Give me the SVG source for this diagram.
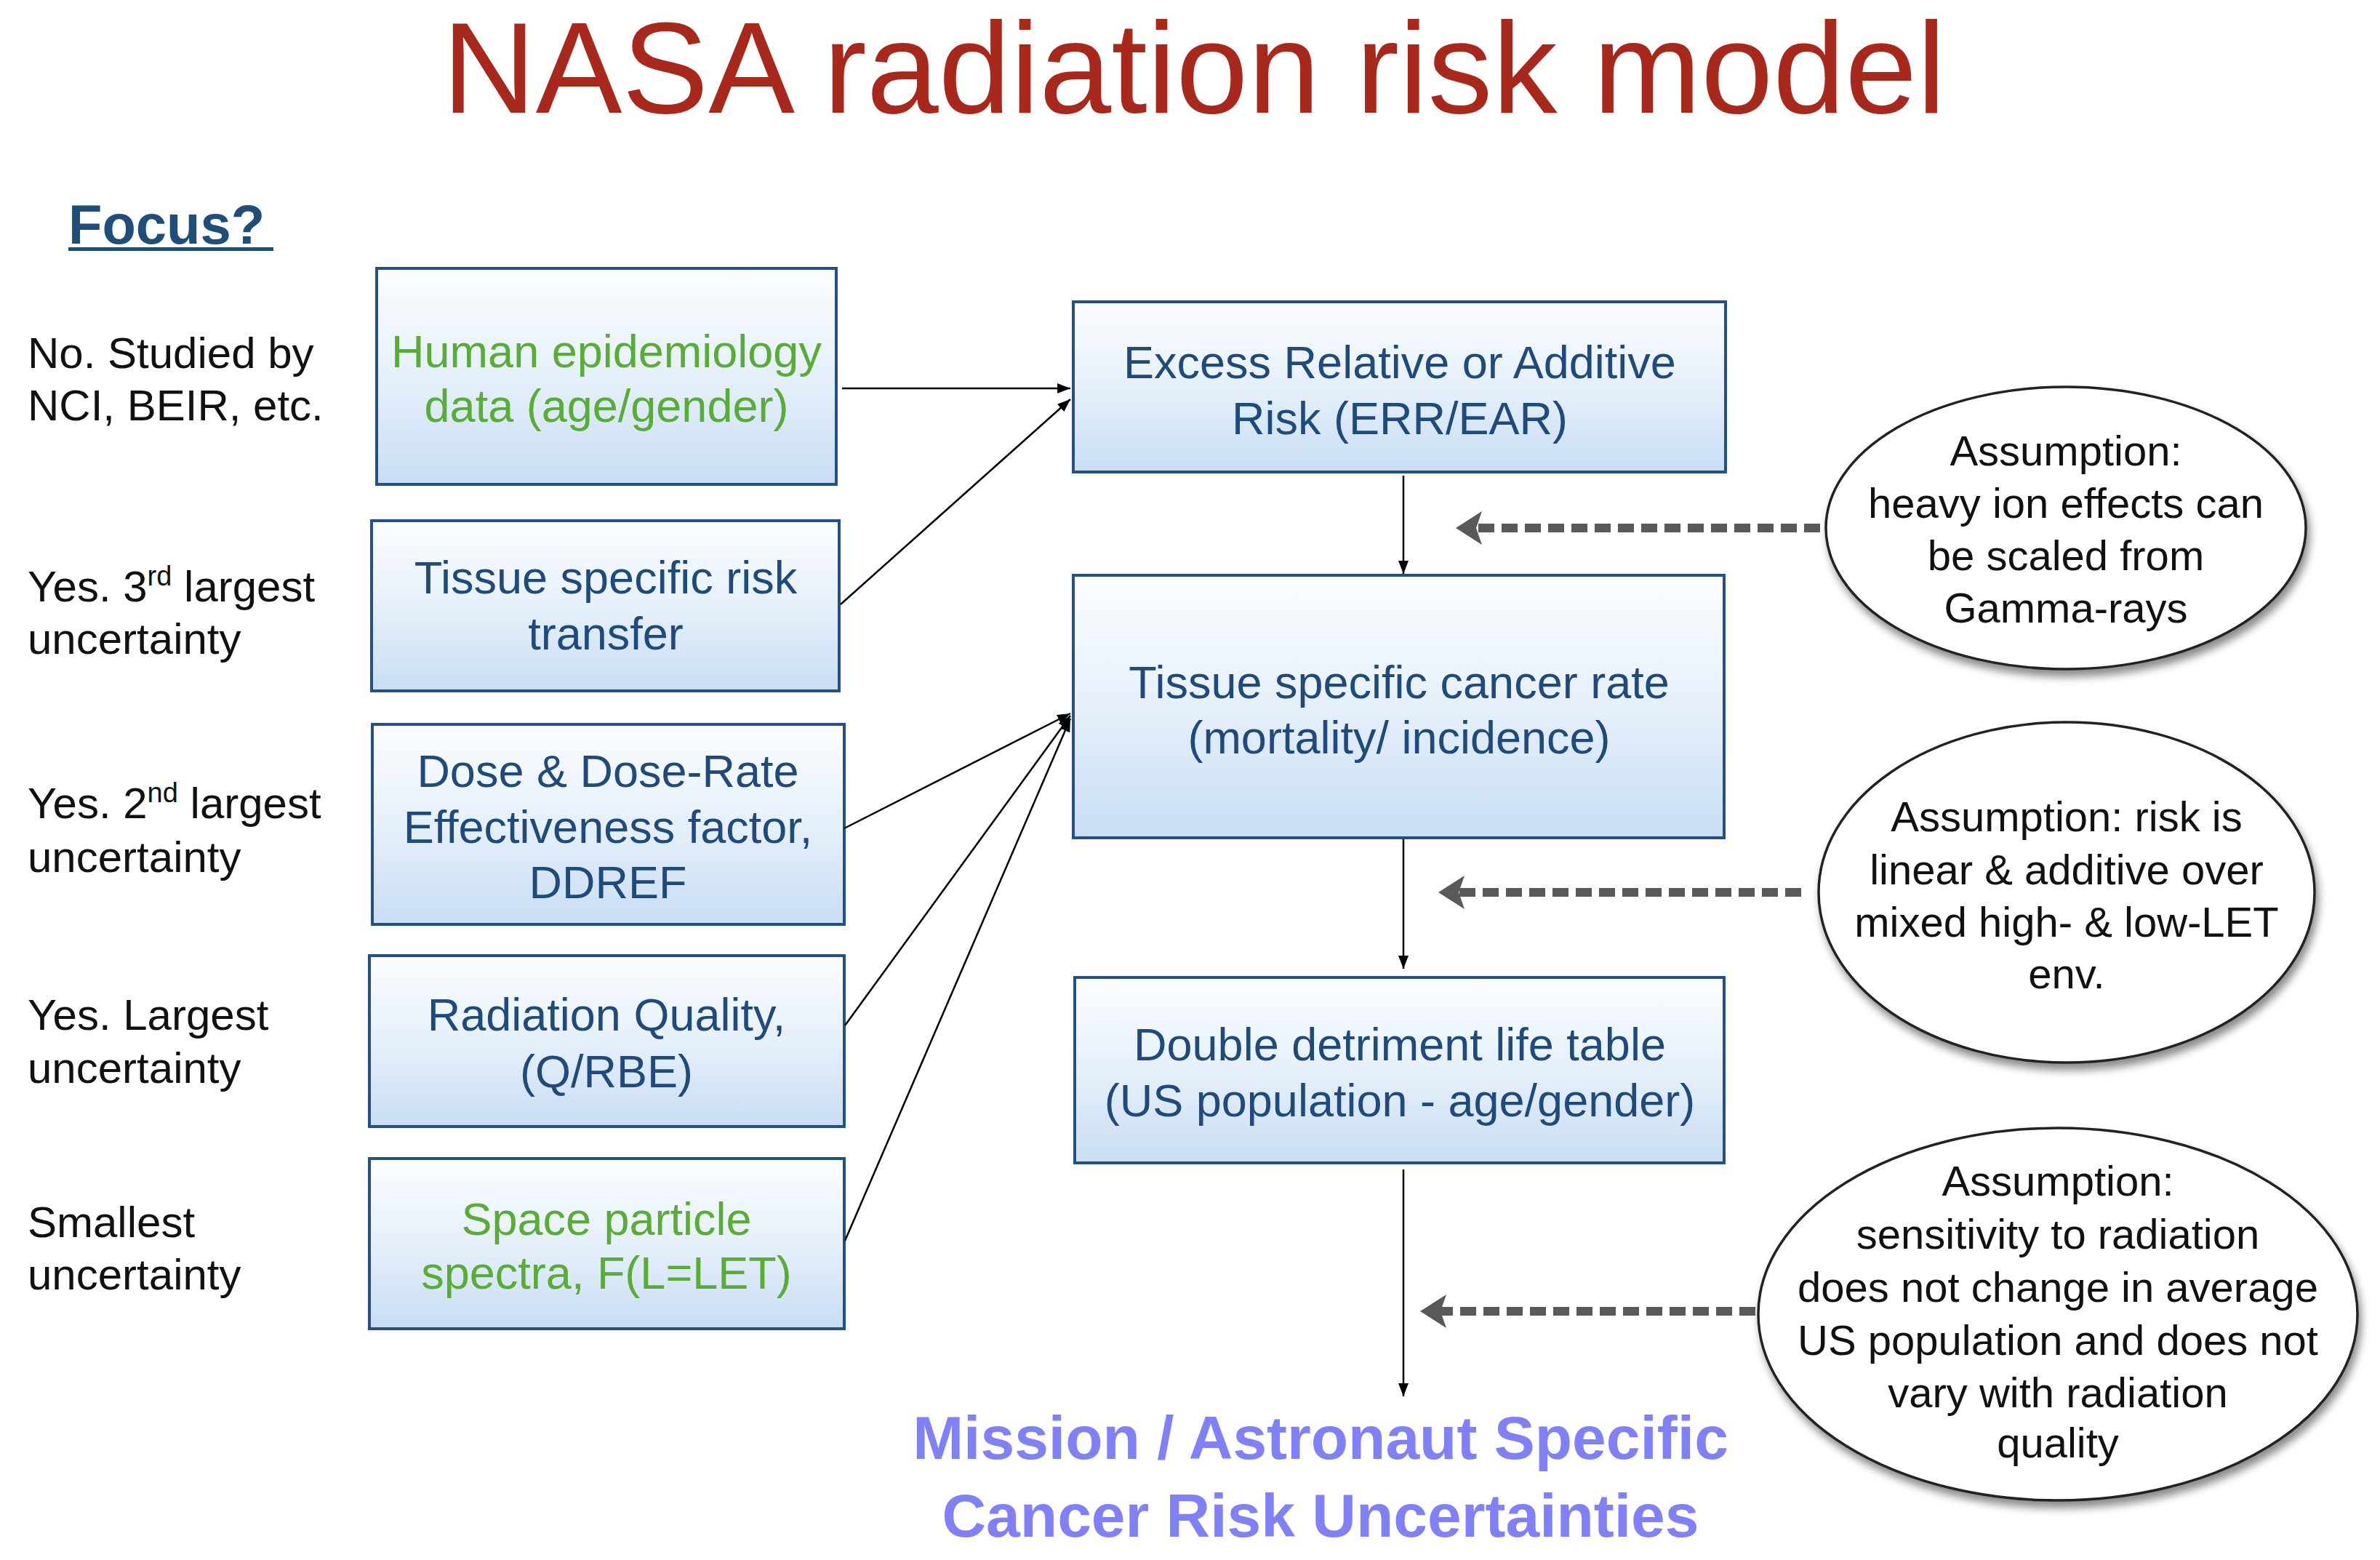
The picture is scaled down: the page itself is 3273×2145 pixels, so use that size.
<svg xmlns="http://www.w3.org/2000/svg" width="3273" height="2145" viewBox="0 0 3273 2145">
<defs>
<linearGradient id="boxg" x1="0" y1="0" x2="0" y2="1">
<stop offset="0" stop-color="#FBFDFF"/>
<stop offset="0.5" stop-color="#E6F0FA"/>
<stop offset="1" stop-color="#C8DDF4"/>
</linearGradient>
<filter id="sh" x="-10%" y="-10%" width="125%" height="130%">
<feDropShadow dx="4" dy="9" stdDeviation="6" flood-color="#000" flood-opacity="0.45"/>
</filter>
<marker id="ah" markerUnits="userSpaceOnUse" viewBox="0 -8 18 16" markerWidth="18" markerHeight="16" refX="18" refY="0" orient="auto">
<path d="M0,-7 L18,0 L0,7 Z" fill="#000"/>
</marker>
<marker id="dah" markerUnits="userSpaceOnUse" viewBox="0 -26 40 52" markerWidth="40" markerHeight="52" refX="8" refY="0" orient="auto">
<path d="M36,0 L0,-23 L8,0 L0,23 Z" fill="#595959"/>
</marker>
</defs>
<style>
.box{fill:url(#boxg);stroke:#24508A;stroke-width:4}
.bt{font-family:"Liberation Sans",Arial,sans-serif;font-size:63px;fill:#1F4A7C;text-anchor:middle}
.green{fill:#58AD35}
.lt{font-family:"Liberation Sans",Arial,sans-serif;font-size:60px;fill:#111}
.et{font-family:"Liberation Sans",Arial,sans-serif;font-size:58px;fill:#111;text-anchor:middle}
.ell{fill:#fff;stroke:#222;stroke-width:3.5;filter:url(#sh)}
.thin{stroke:#000;stroke-width:2.5;fill:none;marker-end:url(#ah)}
.dash{stroke:#595959;stroke-width:12;stroke-dasharray:22 10;fill:none;marker-end:url(#dah)}
.res{font-family:"Liberation Sans",Arial,sans-serif;font-size:84px;font-weight:bold;fill:#8080F8;text-anchor:middle}
</style>
<rect width="3273" height="2145" fill="#fff"/>
<text x="1642" y="155" font-family="Liberation Sans,Arial,sans-serif" font-size="178" fill="#A8281C" text-anchor="middle">NASA radiation risk model</text>
<g id="focus">
<text x="94" y="335" font-family="Liberation Sans,Arial,sans-serif" font-size="76" font-weight="bold" fill="#1F4E79">Focus?</text>
<rect x="94" y="340" width="282" height="5" fill="#1F4E79"/>
</g>
<g id="labels">
<text class="lt" x="38" y="506">No. Studied by</text>
<text class="lt" x="38" y="578">NCI, BEIR, etc.</text>
<text class="lt" x="38" y="827">Yes. 3<tspan font-size="38" dy="-22">rd</tspan><tspan dy="22"> largest</tspan></text>
<text class="lt" x="38" y="899">uncertainty</text>
<text class="lt" x="38" y="1125">Yes. 2<tspan font-size="38" dy="-22">nd</tspan><tspan dy="22"> largest</tspan></text>
<text class="lt" x="38" y="1199">uncertainty</text>
<text class="lt" x="38" y="1416">Yes. Largest</text>
<text class="lt" x="38" y="1489">uncertainty</text>
<text class="lt" x="38" y="1701">Smallest</text>
<text class="lt" x="38" y="1773">uncertainty</text>
</g>
<g id="human-epidemiology">
<rect class="box" x="518" y="369" width="632" height="297"/>
<text class="bt green" x="834" y="505">Human epidemiology</text>
<text class="bt green" x="834" y="580">data (age/gender)</text>
</g>
<g id="tissue-risk-transfer">
<rect class="box" x="511" y="716" width="643" height="234"/>
<text class="bt" x="833" y="816">Tissue specific risk</text>
<text class="bt" x="833" y="893">transfer</text>
</g>
<g id="ddref">
<rect class="box" x="512" y="996" width="649" height="275"/>
<text class="bt" x="836" y="1082">Dose &amp; Dose-Rate</text>
<text class="bt" x="836" y="1159">Effectiveness factor,</text>
<text class="bt" x="836" y="1235">DDREF</text>
</g>
<g id="radiation-quality">
<rect class="box" x="508" y="1314" width="653" height="235"/>
<text class="bt" x="834" y="1417">Radiation Quality,</text>
<text class="bt" x="834" y="1495">(Q/RBE)</text>
</g>
<g id="space-particle">
<rect class="box" x="508" y="1593" width="653" height="234"/>
<text class="bt green" x="834" y="1698">Space particle</text>
<text class="bt green" x="834" y="1772">spectra, F(L=LET)</text>
</g>
<g id="err-ear">
<rect class="box" x="1476" y="415" width="897" height="234"/>
<text class="bt" x="1925" y="520">Excess Relative or Additive</text>
<text class="bt" x="1925" y="597">Risk (ERR/EAR)</text>
</g>
<g id="tissue-cancer-rate">
<rect class="box" x="1476" y="791" width="895" height="361"/>
<text class="bt" x="1924" y="960">Tissue specific cancer rate</text>
<text class="bt" x="1924" y="1036">(mortality/ incidence)</text>
</g>
<g id="life-table">
<rect class="box" x="1478" y="1344" width="893" height="255"/>
<text class="bt" x="1925" y="1458">Double detriment life table</text>
<text class="bt" x="1925" y="1535">(US population - age/gender)</text>
</g>
<g id="assumption1">
<ellipse class="ell" cx="2841" cy="726" rx="330" ry="194"/>
<text class="et" x="2841" y="640">Assumption:</text>
<text class="et" x="2841" y="712">heavy ion effects can</text>
<text class="et" x="2841" y="784">be scaled from</text>
<text class="et" x="2841" y="856">Gamma-rays</text>
</g>
<g id="assumption2">
<ellipse class="ell" cx="2842" cy="1227" rx="341" ry="234"/>
<text class="et" x="2842" y="1143">Assumption: risk is</text>
<text class="et" x="2842" y="1216">linear &amp; additive over</text>
<text class="et" x="2842" y="1288">mixed high- &amp; low-LET</text>
<text class="et" x="2842" y="1359">env.</text>
</g>
<g id="assumption3">
<ellipse class="ell" cx="2830" cy="1807" rx="412" ry="256"/>
<text class="et" x="2830" y="1644">Assumption:</text>
<text class="et" x="2830" y="1717">sensitivity to radiation</text>
<text class="et" x="2830" y="1790">does not change in average</text>
<text class="et" x="2830" y="1863">US population and does not</text>
<text class="et" x="2830" y="1935">vary with radiation</text>
<text class="et" x="2830" y="2004">quality</text>
</g>
<g id="result">
<text class="res" x="1816" y="2006">Mission / Astronaut Specific</text>
<text class="res" x="1816" y="2113">Cancer Risk Uncertainties</text>
</g>
<g id="connectors">
<path class="thin" d="M1158,534 L1472,534"/>
<path class="thin" d="M1156,831 L1472,549"/>
<path class="thin" d="M1161,1139 L1472,981"/>
<path class="thin" d="M1162,1410 L1472,984"/>
<path class="thin" d="M1162,1706 L1472,988"/>
<path class="thin" d="M1930,654 L1930,789"/>
<path class="thin" d="M1930,1154 L1930,1332"/>
<path class="thin" d="M1930,1608 L1930,1920"/>
<path class="dash" d="M2503,726 L2030,726"/>
<path class="dash" d="M2477,1227 L2006,1227"/>
<path class="dash" d="M2414,1803 L1981,1803"/>
</g>
</svg>
